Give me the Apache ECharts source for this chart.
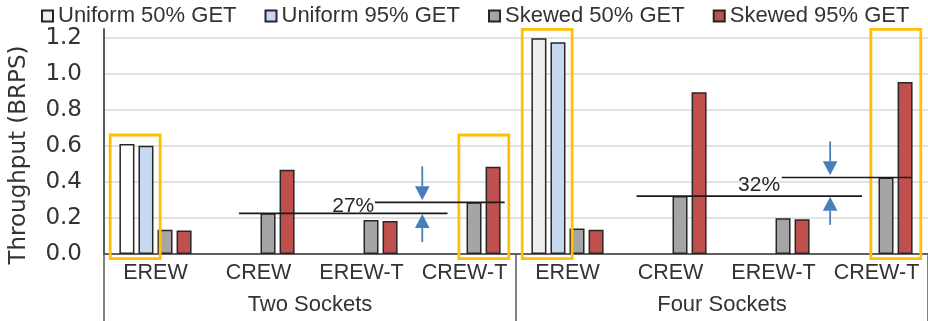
<!DOCTYPE html>
<html>
<head>
<meta charset="utf-8">
<style>
  html, body { margin: 0; padding: 0; background: #ffffff; }
  #chart { width: 928px; height: 321px; }
</style>
<script src="https://cdn.jsdelivr.net/npm/echarts@6/dist/echarts.min.js"></script>
</head>
<body>
<div id="chart"></div>
<script>
// Throughput per lock scheme, grouped by socket count (BRPS).
const categories = ['EREW', 'CREW', 'EREW-T', 'CREW-T', 'EREW', 'CREW', 'EREW-T', 'CREW-T'];
const groups = ['Two Sockets', 'Four Sockets'];
const seriesNames = ['Uniform 50% GET', 'Uniform 95% GET', 'Skewed 50% GET', 'Skewed 95% GET'];
const uniform50 = [0.611, null, null, null, 1.198, null, null, null];
const uniform95 = [0.602, null, null, null, 1.176, null, null, null];
const skewed50 = [0.135, 0.226, 0.189, 0.287, 0.141, 0.322, 0.198, 0.425];
const skewed95 = [0.130, 0.468, 0.183, 0.485, 0.135, 0.898, 0.193, 0.956];
const yTicks = [0, 0.2, 0.4, 0.6, 0.8, 1.0, 1.2];

// Highlighted bar pairs: [category index, which pair]
const highlights = [[0, 'uniform'], [3, 'skewed'], [4, 'uniform'], [7, 'skewed']];
// Skewed 50% GET improvement: [baseline category, improved category]
const gapPairs = [[1, 3], [5, 7]];
const gapLabels = ['27%', '32%'];

const FONT = "'Liberation Sans', Arial, sans-serif";
const WIDE_FONT = "'DejaVu Sans', Verdana, sans-serif";
const TEXT = '#333333';
const AXIS = '#595959';
const colors = ['#f0efed', '#c6d9f1', '#a5a5a5', '#c0504d'];

// Placement of the improvement annotations, in category units relative to the
// baseline and improved categories.
const gapLayout = [
  { a0: -0.19, a1: -0.165, b0: -0.87, b1: 0.39, arrow: -0.41, text: -1.08 },
  { a0: -0.33, a1: -0.14, b0: -0.92, b1: 0.345, arrow: -0.45, text: -1.14 }
];

const annotations = [];
highlights.forEach(h => annotations.push({ kind: 'box', cat: h[0], pair: h[1] }));
gapPairs.forEach((p, i) => annotations.push({ kind: 'gap', base: p[0], top: p[1], label: gapLabels[i], layout: gapLayout[i] }));

function groupMaxUniform(cat) {
  const start = cat < 4 ? 0 : 4;
  let m = 0;
  for (let i = start; i < start + 4; i++) {
    m = Math.max(m, uniform50[i] || 0, uniform95[i] || 0);
  }
  return m;
}

function arrowShape(api, x, fromVal, tipVal, color) {
  const from = api.coord([x, fromVal]);
  const tip = api.coord([x, tipVal]);
  const dir = tip[1] > from[1] ? 1 : -1;
  const headLen = 14, headHalf = 7.3;
  const baseY = tip[1] - dir * headLen;
  return [
    { type: 'line', shape: { x1: from[0], y1: from[1], x2: tip[0], y2: baseY },
      style: { stroke: color, lineWidth: 1.8 } },
    { type: 'polygon', shape: { points: [[tip[0], tip[1]], [tip[0] - headHalf, baseY], [tip[0] + headHalf, baseY]] },
      style: { fill: color } }
  ];
}

function renderAnnotation(params, api) {
  const a = annotations[params.dataIndex];
  if (a.kind === 'box') {
    const x0 = a.cat + (a.pair === 'uniform' ? -0.44 : -0.055);
    const x1 = x0 + 0.485;
    const p0 = api.coord([x0, groupMaxUniform(a.cat) + 0.05]);
    const p1 = api.coord([x1, -0.026]);
    return {
      type: 'rect',
      shape: { x: p0[0], y: p0[1], width: p1[0] - p0[0], height: p1[1] - p0[1] },
      style: { fill: 'none', stroke: '#ffc000', lineWidth: 2.8 }
    };
  }
  const L = a.layout;
  const yA = skewed50[a.base];
  const yB = skewed50[a.top];
  const la0 = api.coord([a.base + L.a0, yA]);
  const la1 = api.coord([a.top + L.a1, yA]);
  const lb0 = api.coord([a.top + L.b0, yB]);
  const lb1 = api.coord([a.top + L.b1, yB]);
  const tp = api.coord([a.top + L.text, (yA + yB) / 2 + 0.01]);
  const ax = a.top + L.arrow;
  const children = [
    { type: 'line', shape: { x1: la0[0], y1: la0[1], x2: la1[0], y2: la1[1] },
      style: { stroke: '#1a1a1a', lineWidth: 1.7 } },
    { type: 'line', shape: { x1: lb0[0], y1: lb0[1], x2: lb1[0], y2: lb1[1] },
      style: { stroke: '#1a1a1a', lineWidth: 1.7 } },
    { type: 'text', x: tp[0], y: tp[1],
      style: { text: a.label, fill: '#262626', font: '21px ' + FONT, align: 'center', verticalAlign: 'middle' } }
  ].concat(
    arrowShape(api, ax, yB + 0.2, yB + 0.012, '#4a7ebb'),
    arrowShape(api, ax, yA - 0.16, yA - 0.004, '#4a7ebb')
  );
  return { type: 'group', children: children };
}

const seriesData = [uniform50, uniform95, skewed50, skewed95];
const barSeries = seriesData.map((values, s) => ({
  name: seriesNames[s],
  type: 'bar',
  xAxisIndex: 0,
  yAxisIndex: 0,
  barWidth: 15,
  barGap: '27%',
  itemStyle: { color: colors[s], borderColor: '#262626', borderWidth: 1.5 },
  data: values.map((v, i) => (s === 0 && i === 0) ? { value: v, itemStyle: { color: '#ffffff' } } : v)
}));

const chart = echarts.init(document.getElementById('chart'), null, { renderer: 'canvas' });
chart.setOption({
  animation: false,
  backgroundColor: '#ffffff',
  textStyle: { fontFamily: FONT },
  legend: {
    data: seriesNames,
    left: 36,
    top: 0,
    itemWidth: 11,
    itemHeight: 11,
    itemGap: 28,
    icon: 'rect',
    textStyle: { fontSize: 22, color: TEXT, fontFamily: FONT }
  },
  grid: { left: 104, right: -6, top: 29, bottom: 67, containLabel: false },
  xAxis: [
    {
      type: 'category',
      data: categories,
      position: 'bottom',
      axisLine: { show: true, onZero: false, lineStyle: { color: AXIS, width: 1.5 } },
      axisTick: { show: false },
      axisLabel: { fontSize: 21.5, color: TEXT, fontFamily: FONT, margin: 8, interval: 0 }
    },
    {
      type: 'category',
      data: groups,
      position: 'bottom',
      axisLine: { show: true, onZero: false, lineStyle: { color: AXIS, width: 1.5 } },
      axisTick: { show: true, length: 72, interval: 0, lineStyle: { color: AXIS, width: 1.5 } },
      axisLabel: { fontSize: 22, color: TEXT, fontFamily: FONT, margin: 40 }
    },
    { type: 'value', min: -0.5, max: 7.5, show: false }
  ],
  yAxis: {
    type: 'value',
    min: 0,
    max: 1.25,
    interval: 0.2,
    name: 'Throughput (BRPS)',
    nameLocation: 'middle',
    nameGap: 73,
    nameTextStyle: { fontSize: 23, color: TEXT, fontFamily: WIDE_FONT, padding: [0, 27, 0, 0] },
    axisLine: { show: true, onZero: false, lineStyle: { color: AXIS, width: 2 } },
    axisTick: { show: false },
    axisLabel: {
      fontSize: 23, color: TEXT, fontFamily: WIDE_FONT, margin: 22, showMaxLabel: false,
      formatter: v => (yTicks.some(t => Math.abs(t - v) < 1e-9) ? v.toFixed(1) : '')
    },
    splitLine: { show: true, showMaxLine: false, lineStyle: { color: '#d9d9d9', width: 1.5 } }
  },
  series: barSeries.concat([{
    type: 'custom',
    xAxisIndex: 2,
    yAxisIndex: 0,
    silent: true,
    z: 10,
    clip: false,
    renderItem: renderAnnotation,
    data: annotations.map((a, i) => [i])
  }])
});
</script>
</body>
</html>
